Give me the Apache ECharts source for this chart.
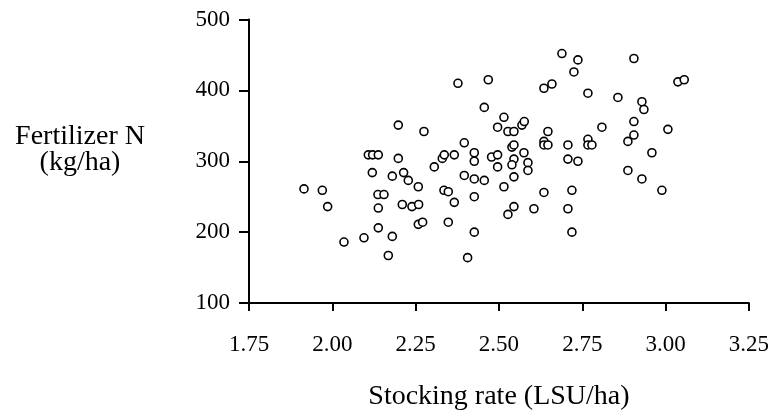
<!DOCTYPE html>
<html>
<head>
<meta charset="utf-8">
<script src="https://cdn.jsdelivr.net/npm/echarts@6/dist/echarts.min.js"></script>
<style>
html,body{margin:0;padding:0;background:#fff;}
#chart{width:772px;height:416px;}
</style>
</head>
<body>
<div id="chart"></div>
<script>
// Stocking rate (LSU/ha) for each farm
var stockingRate = [
  1.915, 1.970, 1.986, 2.035, 2.095, 2.108, 2.121, 2.138, 2.120, 2.137,
  2.155, 2.138, 2.138, 2.168, 2.180, 2.180, 2.198, 2.198, 2.214, 2.210,
  2.228, 2.239, 2.259, 2.258, 2.258, 2.271, 2.275, 2.306, 2.330, 2.336,
  2.366, 2.335, 2.348, 2.366, 2.348, 2.377, 2.396, 2.396, 2.406, 2.426,
  2.426, 2.426, 2.426, 2.426, 2.456, 2.456, 2.468, 2.478, 2.496, 2.496,
  2.496, 2.515, 2.515, 2.527, 2.545, 2.539, 2.545, 2.545, 2.539, 2.545,
  2.545, 2.527, 2.569, 2.576, 2.575, 2.587, 2.587, 2.605, 2.635, 2.659,
  2.647, 2.635, 2.635, 2.647, 2.635, 2.689, 2.737, 2.725, 2.707, 2.707,
  2.737, 2.719, 2.707, 2.719, 2.767, 2.767, 2.767, 2.779, 2.809, 2.857,
  2.887, 2.905, 2.905, 2.905, 2.887, 2.929, 2.935, 2.929, 2.959, 2.989,
  3.007, 3.037, 3.056
];
// Fertilizer N (kg/ha) for each farm
var fertilizerN = [
  261, 259, 236, 186, 192, 309, 309, 309, 284, 253,
  253, 234, 206, 167, 194, 279, 304, 351, 284, 239,
  273, 236, 239, 264, 211, 214, 342, 292, 304, 309,
  309, 259, 257, 242, 214, 410, 326, 280, 164, 312,
  300, 275, 250, 200, 376, 273, 415, 306, 309, 292,
  348, 362, 264, 342, 342, 320, 323, 303, 295, 278,
  236, 225, 351, 356, 312, 298, 287, 233, 403, 409,
  342, 328, 323, 323, 256, 452, 443, 426, 323, 303,
  300, 259, 233, 200, 396, 331, 323, 323, 348, 390,
  328, 337, 356, 445, 287, 384, 373, 275, 312, 259,
  345, 412, 415
];
var xTicks = [1.75, 2.00, 2.25, 2.50, 2.75, 3.00, 3.25];
var yTicks = [100, 200, 300, 400, 500];
var xTitle = 'Stocking rate (LSU/ha)';
var yTitle = 'Fertilizer N\n(kg/ha)';

var points = stockingRate.map(function (x, i) { return [x, fertilizerN[i]]; });
var FONT = '"Liberation Serif", "DejaVu Serif", serif';

var chart = echarts.init(document.getElementById('chart'), null, {renderer: 'canvas'});
chart.setOption({
  animation: false,
  backgroundColor: '#ffffff',
  grid: {left: 249, right: 23, top: 19.5, bottom: 110.3, containLabel: false},
  xAxis: {
    type: 'value',
    min: xTicks[0], max: xTicks[xTicks.length - 1], interval: 0.25,
    name: xTitle, nameLocation: 'middle', nameGap: 80,
    nameTextStyle: {fontFamily: FONT, fontSize: 28, color: '#000'},
    axisLine: {show: true, onZero: false, lineStyle: {color: '#000', width: 2}},
    axisTick: {show: true, inside: false, length: 8, lineStyle: {color: '#000', width: 2}},
    axisLabel: {
      fontFamily: FONT, fontSize: 23, color: '#000', margin: 30,
      formatter: function (v) { return v.toFixed(2); }
    },
    splitLine: {show: false}
  },
  yAxis: {
    type: 'value',
    min: yTicks[0], max: yTicks[yTicks.length - 1], interval: 100,
    axisLine: {show: true, onZero: false, lineStyle: {color: '#000', width: 2}},
    axisTick: {show: true, inside: false, length: 10, lineStyle: {color: '#000', width: 2}},
    axisLabel: {fontFamily: FONT, fontSize: 23, color: '#000', margin: 19},
    splitLine: {show: false}
  },
  graphic: [{
    type: 'text',
    x: 80, y: 124,
    style: {
      text: yTitle, font: '28px ' + FONT, fontFamily: FONT, fontSize: 28, fill: '#000',
      align: 'center', verticalAlign: 'top', lineHeight: 26
    }
  }],
  series: [{
    type: 'scatter',
    data: points,
    symbol: 'circle',
    symbolSize: 8,
    itemStyle: {color: '#ffffff', borderColor: '#000', borderWidth: 1.6, opacity: 1},
    emphasis: {disabled: true}
  }]
});
</script>
</body>
</html>
